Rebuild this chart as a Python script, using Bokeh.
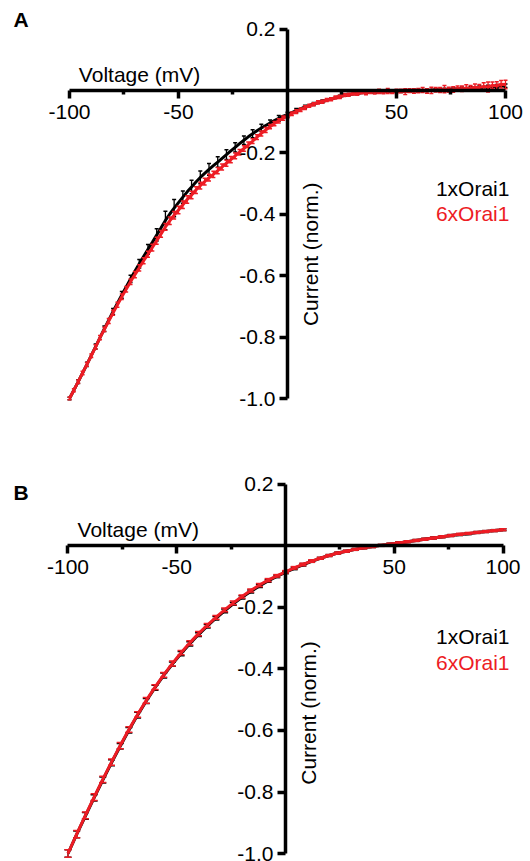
import numpy as np
from math import pi
from bokeh.plotting import figure
from bokeh.models import (Range1d, LinearAxis, FixedTicker, PrintfTickFormatter,
                          Label, ColumnDataSource)
from bokeh.layouts import column
from bokeh.embed import file_html
from bokeh.resources import INLINE

# ---------------- data ----------------
# Panel A: voltage steps of 2 mV
V_A = list(range(-100, 101, 2))
A_1x = [-1.000, -0.973, -0.945, -0.917, -0.889, -0.860, -0.831, -0.802, -0.773, -0.745,
        -0.717, -0.690, -0.663, -0.637, -0.611, -0.586, -0.562, -0.538, -0.515, -0.492,
        -0.468, -0.445, -0.421, -0.400, -0.381, -0.363, -0.345, -0.328, -0.312, -0.296,
        -0.281, -0.268, -0.255, -0.243, -0.231, -0.219, -0.207, -0.195, -0.183, -0.171,
        -0.160, -0.149, -0.139, -0.129, -0.120, -0.112, -0.104, -0.096, -0.089, -0.082,
        -0.077, -0.070, -0.064, -0.058, -0.052, -0.047, -0.042, -0.038, -0.034, -0.030,
        -0.026, -0.022, -0.018, -0.015, -0.012, -0.010, -0.008, -0.006, -0.005, -0.004,
        -0.003, -0.003, -0.002, -0.002, -0.002, -0.001, -0.001, 0.000, 0.000, 0.001,
        0.001, 0.002, 0.002, 0.003, 0.003, 0.004, 0.005, 0.005, 0.006, 0.007,
        0.008, 0.008, 0.009, 0.010, 0.011, 0.012, 0.013, 0.014, 0.015, 0.016,
        0.017]
A_1x_err = [0.004, 0.005, 0.006, 0.006, 0.007, 0.007, 0.008, 0.008, 0.009, 0.009,
            0.010, 0.010, 0.011, 0.011, 0.012, 0.012, 0.014, 0.015, 0.016, 0.018,
            0.020, 0.024, 0.030, 0.034, 0.028, 0.022, 0.020, 0.021, 0.022, 0.022,
            0.021, 0.020, 0.019, 0.018, 0.017, 0.016, 0.016, 0.015, 0.015, 0.014,
            0.014, 0.013, 0.013, 0.012, 0.012, 0.011, 0.010, 0.010, 0.009, 0.009,
            0.008, 0.008, 0.007, 0.007, 0.006, 0.006, 0.005, 0.005, 0.005, 0.004,
            0.004, 0.004, 0.004, 0.004, 0.004, 0.004, 0.004, 0.004, 0.004, 0.004,
            0.004, 0.004, 0.004, 0.004, 0.004, 0.004, 0.004, 0.004, 0.004, 0.004,
            0.004, 0.004, 0.004, 0.004, 0.004, 0.004, 0.004, 0.004, 0.004, 0.004,
            0.005, 0.005, 0.005, 0.005, 0.005, 0.006, 0.006, 0.006, 0.006, 0.006,
            0.006]
A_6x = [-1.000, -0.973, -0.945, -0.917, -0.889, -0.861, -0.832, -0.802, -0.775, -0.748,
        -0.721, -0.695, -0.669, -0.645, -0.620, -0.597, -0.575, -0.552, -0.531, -0.509,
        -0.487, -0.465, -0.442, -0.422, -0.404, -0.387, -0.370, -0.353, -0.338, -0.322,
        -0.308, -0.295, -0.282, -0.271, -0.259, -0.247, -0.235, -0.223, -0.211, -0.199,
        -0.187, -0.175, -0.163, -0.150, -0.138, -0.127, -0.116, -0.106, -0.097, -0.088,
        -0.082, -0.074, -0.067, -0.061, -0.054, -0.048, -0.043, -0.037, -0.035, -0.029,
        -0.027, -0.021, -0.019, -0.013, -0.012, -0.008, -0.009, -0.004, -0.006, -0.002,
        -0.004, -0.001, -0.003, 0.000, -0.002, -0.001, 0.000, -0.002, 0.001, 0.000,
        0.001, 0.003, 0.000, 0.002, 0.004, 0.003, 0.006, 0.004, 0.005, 0.008,
        0.007, 0.010, 0.009, 0.012, 0.011, 0.015, 0.013, 0.018, 0.017, 0.022,
        0.021]
A_6x_err = [0.004, 0.005, 0.005, 0.006, 0.006, 0.006, 0.007, 0.007, 0.007, 0.008,
            0.008, 0.008, 0.009, 0.009, 0.009, 0.010, 0.010, 0.010, 0.010, 0.011,
            0.011, 0.011, 0.011, 0.012, 0.012, 0.012, 0.012, 0.012, 0.012, 0.011,
            0.011, 0.011, 0.011, 0.010, 0.010, 0.010, 0.010, 0.010, 0.009, 0.009,
            0.009, 0.009, 0.008, 0.008, 0.008, 0.008, 0.007, 0.007, 0.007, 0.007,
            0.006, 0.006, 0.006, 0.006, 0.006, 0.005, 0.005, 0.005, 0.005, 0.005,
            0.005, 0.005, 0.005, 0.005, 0.005, 0.005, 0.005, 0.005, 0.006, 0.006,
            0.006, 0.007, 0.006, 0.008, 0.006, 0.007, 0.006, 0.009, 0.006, 0.007,
            0.007, 0.008, 0.007, 0.010, 0.007, 0.008, 0.012, 0.008, 0.009, 0.008,
            0.009, 0.010, 0.009, 0.011, 0.010, 0.012, 0.016, 0.011, 0.013, 0.012,
            0.014]

# Panel B: voltage steps of 4 mV
V_B = list(range(-100, 101, 4))
B_1x = [-1.000, -0.938, -0.878, -0.819, -0.761, -0.705, -0.651, -0.599, -0.550, -0.504,
        -0.461, -0.421, -0.384, -0.350, -0.318, -0.288, -0.261, -0.235, -0.211, -0.188,
        -0.167, -0.148, -0.130, -0.114, -0.099, -0.086, -0.073, -0.061, -0.050, -0.040,
        -0.031, -0.023, -0.017, -0.011, -0.006, -0.002, 0.002, 0.006, 0.010, 0.014,
        0.018, 0.022, 0.026, 0.030, 0.034, 0.037, 0.040, 0.044, 0.047, 0.050,
        0.053]
B_1x_err = [0.012, 0.011, 0.011, 0.010, 0.010, 0.010, 0.009, 0.009, 0.009, 0.008,
            0.008, 0.008, 0.007, 0.007, 0.007, 0.006, 0.006, 0.006, 0.006, 0.005,
            0.005, 0.005, 0.005, 0.004, 0.004, 0.004, 0.004, 0.004, 0.003, 0.003,
            0.003, 0.003, 0.003, 0.003, 0.003, 0.003, 0.003, 0.003, 0.003, 0.003,
            0.003, 0.003, 0.003, 0.003, 0.003, 0.003, 0.003, 0.003, 0.003, 0.003,
            0.003]
B_6x = [-1.000, -0.937, -0.876, -0.817, -0.759, -0.703, -0.649, -0.597, -0.548, -0.502,
        -0.459, -0.419, -0.382, -0.347, -0.315, -0.285, -0.258, -0.232, -0.208, -0.185,
        -0.164, -0.145, -0.127, -0.111, -0.097, -0.084, -0.071, -0.060, -0.049, -0.040,
        -0.031, -0.023, -0.017, -0.011, -0.006, -0.002, 0.002, 0.006, 0.010, 0.014,
        0.018, 0.022, 0.026, 0.030, 0.034, 0.038, 0.041, 0.044, 0.047, 0.050,
        0.053]
B_6x_err = [0.012, 0.012, 0.011, 0.011, 0.010, 0.010, 0.010, 0.009, 0.009, 0.009,
            0.008, 0.008, 0.008, 0.007, 0.007, 0.007, 0.006, 0.006, 0.006, 0.006,
            0.005, 0.005, 0.005, 0.005, 0.004, 0.004, 0.004, 0.004, 0.004, 0.003,
            0.003, 0.003, 0.003, 0.003, 0.003, 0.003, 0.003, 0.003, 0.003, 0.003,
            0.003, 0.003, 0.003, 0.003, 0.003, 0.003, 0.003, 0.003, 0.003, 0.003,
            0.003]

X_TICKS = [-100, -50, 50, 100]
X_MINOR = [-75, -25, 25, 75]
Y_TICKS = [0.2, -0.2, -0.4, -0.6, -0.8, -1.0]
SERIES_NAMES = ["1xOrai1", "6xOrai1"]

FONT = "Liberation Sans"
FS = "21px"
RED = "#ED1C24"
BLACK = "#000000"


def add_series(p, V, vals, errs, color, cap, bar_step):
    v = np.array(V, dtype=float)
    y = np.array(vals)
    e = np.array(errs)
    src = ColumnDataSource(dict(x=v[::bar_step], lo=(y - e)[::bar_step],
                                hi=(y + e)[::bar_step]))
    p.segment(x0="x", y0="lo", x1="x", y1="hi", source=src,
              line_color=color, line_width=1.3)
    p.dash(x="x", y="hi", source=src, size=cap, line_color=color, line_width=1.5)
    p.dash(x="x", y="lo", source=src, size=cap, line_color=color, line_width=1.5)
    p.line(v, y, line_color=color, line_width=3)


def make_panel(letter, xr, yr, height, V, s1, e1, s2, e2, cap, step1, step2,
               letter_pos, volt_pos, curr_pos, leg_x, leg_y):
    p = figure(width=530, height=height, x_range=Range1d(*xr), y_range=Range1d(*yr),
               x_axis_location=None, y_axis_location=None,
               toolbar_location=None, output_backend="svg", min_border=0,
               outline_line_color=None, background_fill_color="white",
               border_fill_color="white")
    for g in list(p.grid):
        g.visible = False

    xa = LinearAxis(ticker=FixedTicker(ticks=X_TICKS, minor_ticks=X_MINOR),
                    formatter=PrintfTickFormatter(format="%d"),
                    fixed_location=0, bounds=(-100, 100))
    ya = LinearAxis(ticker=FixedTicker(ticks=Y_TICKS, minor_ticks=[]),
                    formatter=PrintfTickFormatter(format="%.1f"),
                    fixed_location=0, bounds=(-1.0, 0.2))
    for ax in (xa, ya):
        ax.axis_line_width = 3.5
        ax.axis_line_color = "black"
        ax.major_tick_line_width = 3.5
        ax.minor_tick_line_width = 3.5
        ax.major_tick_line_color = "black"
        ax.minor_tick_line_color = "black"
        ax.major_tick_in = 0
        ax.major_tick_out = 8
        ax.minor_tick_in = 0
        ax.minor_tick_out = 4
        ax.major_label_text_font = FONT
        ax.major_label_text_font_size = FS
        ax.major_label_text_color = "black"
    xa.major_label_standoff = 6
    ya.major_label_standoff = 4
    p.add_layout(xa, "below")
    p.add_layout(ya, "left")

    add_series(p, V, s1, e1, BLACK, cap, step1)
    add_series(p, V, s2, e2, RED, cap, step2)

    p.add_layout(Label(x=letter_pos[0], y=letter_pos[1], text=letter,
                       text_font=FONT, text_font_style="bold", text_font_size="21px",
                       text_color="black", text_align="left",
                       text_baseline="alphabetic"))
    p.add_layout(Label(x=volt_pos[0], y=volt_pos[1], text="Voltage (mV)",
                       text_font=FONT, text_font_size=FS, text_color="black",
                       text_align="left", text_baseline="alphabetic"))
    p.add_layout(Label(x=curr_pos[0], y=curr_pos[1], text="Current (norm.)",
                       text_font=FONT, text_font_size=FS, text_color="black",
                       text_align="center", text_baseline="alphabetic",
                       angle=pi / 2))
    for name, yy, col in zip(SERIES_NAMES, leg_y, [BLACK, RED]):
        p.add_layout(Label(x=leg_x, y=yy, text=name, text_font=FONT,
                           text_font_size=FS, text_color=col, text_align="right",
                           text_baseline="alphabetic"))
    return p


pA = make_panel("A", (-131.65, 111.47), (-1.2016, 0.2943), 460,
                V_A, A_1x, A_1x_err, A_6x, A_6x_err, 4, 2, 1,
                (-125.7, 0.232), (-95.7, 0.054), (10.5, -0.531),
                101.8, [-0.316, -0.399])
pB = make_panel("B", (-131.03, 112.64), (-1.026, 0.278), 401,
                V_B, B_1x, B_1x_err, B_6x, B_6x_err, 7, 1, 1,
                (-125.1, 0.175), (-95.6, 0.054), (10.6, -0.543),
                103.0, [-0.295, -0.3775])

layout = column(pA, pB)
open("out.html", "w").write(file_html(layout, INLINE))
